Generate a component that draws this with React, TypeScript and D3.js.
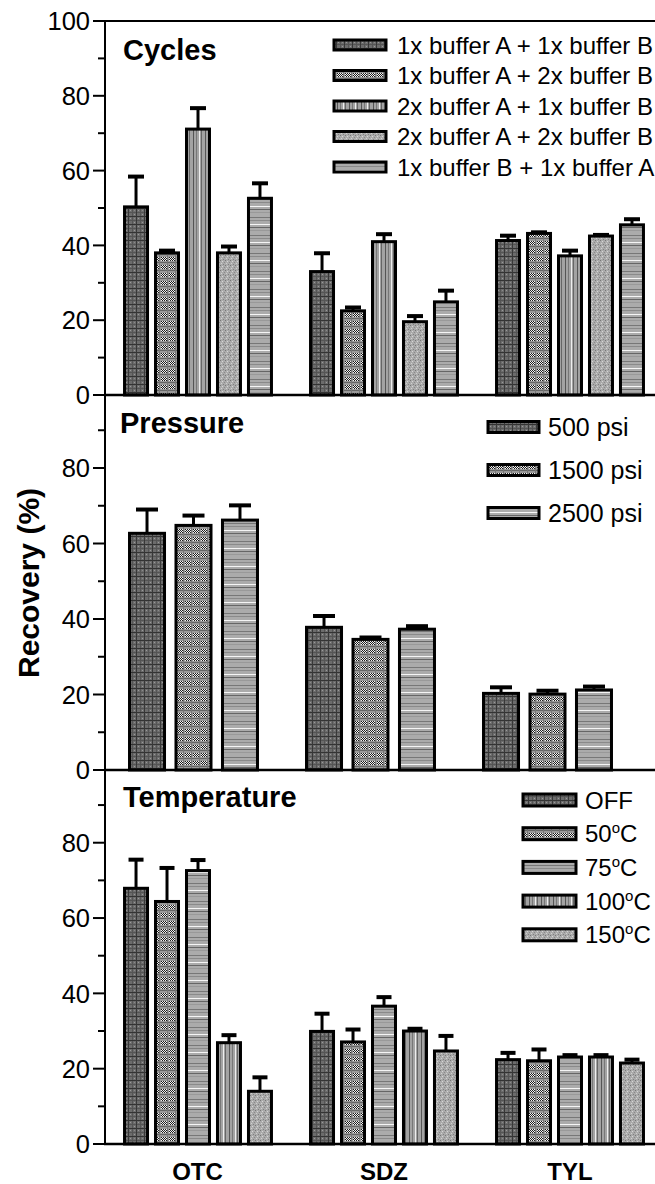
import React from "react";
import * as d3 from "d3";

const groups = ["OTC", "SDZ", "TYL"];

const cycleSeries = [
  "1x buffer A + 1x buffer B",
  "1x buffer A + 2x buffer B",
  "2x buffer A + 1x buffer B",
  "2x buffer A + 2x buffer B",
  "1x buffer B + 1x buffer A",
];
const cycleMeans = [
  [50.3, 33.0, 41.3],
  [38.0, 22.5, 43.2],
  [71.1, 41.0, 37.2],
  [38.0, 19.6, 42.5],
  [52.6, 24.9, 45.5],
];
const cycleErrors = [
  [8.1, 4.9, 1.3],
  [0.6, 0.9, 0.3],
  [5.6, 2.0, 1.4],
  [1.7, 1.5, 0.3],
  [4.0, 3.0, 1.5],
];

const pressureSeries = ["500 psi", "1500 psi", "2500 psi"];
const pressureMeans = [
  [62.7, 37.8, 20.3],
  [64.8, 34.6, 20.1],
  [66.2, 37.3, 21.2],
];
const pressureErrors = [
  [6.3, 3.0, 1.6],
  [2.6, 0.5, 0.9],
  [3.9, 0.8, 0.9],
];

// temperature labels: number part, degree mark is drawn as a superscript "o"
const tempSeries = ["OFF", "50", "75", "100", "150"];
const tempMeans = [
  [67.9, 29.9, 22.4],
  [64.4, 27.1, 22.1],
  [72.6, 36.6, 23.1],
  [26.9, 30.0, 23.1],
  [14.0, 24.7, 21.5],
];
const tempErrors = [
  [7.6, 4.7, 1.8],
  [8.9, 3.3, 3.0],
  [2.8, 2.4, 0.5],
  [2.0, 0.6, 0.5],
  [3.7, 4.0, 0.9],
];

const majorTicks = [0, 20, 40, 60, 80, 100];
const minorTicks = [10, 30, 50, 70, 90];

const FONT = "'Liberation Sans', Arial, Helvetica, sans-serif";
const AXIS_X = 105;
const RIGHT = 655;

const Patterns = () => (
  <defs>
    <pattern id="p1" width={8} height={8} patternUnits="userSpaceOnUse">
      <rect width={8} height={8} fill="#6c6c6c" />
      <rect x={0} y={4} width={8} height={1} fill="#555" />
      <rect x={4} y={0} width={1} height={8} fill="#555" />
      <rect x={0} y={0} width={8} height={1} fill="#333" />
      <rect x={0} y={0} width={1} height={8} fill="#383838" />
      <rect x={2} y={2} width={1} height={1} fill="#9a9a9a" />
      <rect x={6} y={6} width={1} height={1} fill="#9a9a9a" />
      <rect x={6} y={2} width={1} height={1} fill="#8a8a8a" />
    </pattern>
    <pattern id="p2" width={8} height={8} patternUnits="userSpaceOnUse">
      <rect width={8} height={8} fill="#999" />
      {d3.range(1, 7).flatMap((x) =>
        d3.range(1, 5).map((y) => (
          <rect
            key={`${x}-${y}`}
            x={x}
            y={y}
            width={1}
            height={1}
            fill={(x + y) % 2 === 0 ? "#1c1c1c" : "#f2f2f2"}
          />
        ))
      )}
      <rect x={0} y={6} width={8} height={1} fill="#666" />
      <rect x={7} y={0} width={1} height={8} fill="#777" />
    </pattern>
    <pattern id="p3" width={12} height={4} patternUnits="userSpaceOnUse">
      <rect width={12} height={4} fill="#a3a3a3" />
      <rect x={1} width={1} height={4} fill="#555" />
      <rect x={4} width={1} height={4} fill="#777" />
      <rect x={7} width={1} height={4} fill="#eeeeee" />
      <rect x={9} width={1} height={4} fill="#666" />
    </pattern>
    <pattern id="p4" width={5} height={5} patternUnits="userSpaceOnUse">
      <rect width={5} height={5} fill="#ababab" />
      <rect x={0} y={0} width={1} height={1} fill="#777" />
      <rect x={2} y={1} width={1} height={1} fill="#d6d6d6" />
      <rect x={4} y={2} width={1} height={1} fill="#888" />
      <rect x={1} y={3} width={1} height={1} fill="#d0d0d0" />
      <rect x={3} y={4} width={1} height={1} fill="#808080" />
    </pattern>
    <pattern id="p5" width={4} height={18} patternUnits="userSpaceOnUse">
      <rect width={4} height={18} fill="#ababab" />
      <rect y={1} width={4} height={1} fill="#777" />
      <rect y={4} width={4} height={1} fill="#8a8a8a" />
      <rect y={8} width={4} height={1} fill="#f5f5f5" />
      <rect y={11} width={4} height={1} fill="#666" />
      <rect y={14} width={4} height={1} fill="#999" />
    </pattern>
  </defs>
);

type PanelProps = {
  top: number;
  bottom: number;
  title: string;
  titleX: number;
  titleY: number;
  means: number[][];
  errors: number[][];
  patterns: string[];
  groupRange: [number, number];
  groupPad: number;
  barPad: number;
  capWidth: number;
  labelTop: boolean;
  legend: React.ReactNode;
};

const Panel = ({
  top,
  bottom,
  title,
  titleX,
  titleY,
  means,
  errors,
  patterns,
  groupRange,
  groupPad,
  barPad,
  capWidth,
  labelTop,
  legend,
}: PanelProps) => {
  const y = d3.scaleLinear().domain([0, 100]).range([bottom, top]);
  const x0 = d3
    .scaleBand()
    .domain(groups)
    .range(groupRange)
    .paddingInner(groupPad)
    .paddingOuter(groupPad / 2);
  const x1 = d3
    .scaleBand<number>()
    .domain(d3.range(means.length))
    .range([0, x0.bandwidth()])
    .paddingInner(barPad)
    .paddingOuter(0);

  const labels = labelTop ? majorTicks : majorTicks.slice(0, -1);

  return (
    <g>
      {/* ticks */}
      {labels.map((t) => (
        <g key={"M" + t}>
          <line x1={AXIS_X - 12} x2={AXIS_X} y1={y(t)} y2={y(t)} stroke="#000" strokeWidth={2} />
          <text
            x={AXIS_X - 15}
            y={y(t)}
            dy="0.36em"
            textAnchor="end"
            fontSize={25.5}
            fontFamily={FONT}
          >
            {t}
          </text>
        </g>
      ))}
      {minorTicks.map((t) => (
        <line key={"m" + t} x1={AXIS_X - 7} x2={AXIS_X} y1={y(t)} y2={y(t)} stroke="#000" strokeWidth={2} />
      ))}

      {/* bars */}
      {means.map((row, s) =>
        row.map((v, g) => {
          const bx = (x0(groups[g]) as number) + (x1(s) as number);
          const cx = bx + x1.bandwidth() / 2;
          const e = errors[s][g];
          return (
            <g key={`${s}-${g}`}>
              <line x1={cx} x2={cx} y1={y(v)} y2={y(v + e)} stroke="#000" strokeWidth={3} />
              <line
                x1={cx - capWidth / 2}
                x2={cx + capWidth / 2}
                y1={y(v + e)}
                y2={y(v + e)}
                stroke="#000"
                strokeWidth={4}
              />
              <rect
                x={bx}
                y={y(v)}
                width={x1.bandwidth()}
                height={y(0) - y(v)}
                fill={`url(#${patterns[s]})`}
                stroke="#000"
                strokeWidth={3}
              />
            </g>
          );
        })
      )}

      <line x1={AXIS_X - 1} x2={RIGHT} y1={bottom} y2={bottom} stroke="#000" strokeWidth={2.5} />

      <text x={titleX} y={titleY} fontSize={29} fontWeight="bold" fontFamily={FONT}>
        {title}
      </text>
      {legend}
    </g>
  );
};

type LegendProps = {
  items: React.ReactNode[];
  patterns: string[];
  x: number;
  y0: number;
  step: number;
  swatchW: number;
  swatchH: number;
  textX: number;
  fontSize: number;
};

const Legend = ({ items, patterns, x, y0, step, swatchW, swatchH, textX, fontSize }: LegendProps) => (
  <g>
    {items.map((label, i) => {
      const cy = y0 + i * step;
      return (
        <g key={i}>
          <rect
            x={x}
            y={cy - swatchH / 2}
            width={swatchW}
            height={swatchH}
            fill={`url(#${patterns[i]})`}
            stroke="#000"
            strokeWidth={3}
          />
          <text x={textX} y={cy} dy="0.36em" fontSize={fontSize} fontFamily={FONT}>
            {label}
          </text>
        </g>
      );
    })}
  </g>
);

const tempLabel = (t: string) =>
  t === "OFF" ? (
    t
  ) : (
    <>
      {t}
      <tspan dy={-9} fontSize={15}>
        o
      </tspan>
      <tspan dy={9}>C</tspan>
    </>
  );

const cyclePatterns = ["p1", "p2", "p3", "p4", "p5"];
const pressurePatterns = ["p1", "p2", "p5"];
const tempPatterns = ["p1", "p2", "p5", "p3", "p4"];

export default function App() {
  return (
    <svg
      width={655}
      height={1184}
      style={{ position: "absolute", left: 0, top: 0, background: "#fff" }}
    >
      <Patterns />

      <line x1={AXIS_X} x2={AXIS_X} y1={21} y2={1145} stroke="#000" strokeWidth={2} />
      <line x1={AXIS_X} x2={RIGHT} y1={21} y2={21} stroke="#000" strokeWidth={2} />

      <Panel
        top={21}
        bottom={395}
        title="Cycles"
        titleX={123}
        titleY={60}
        means={cycleMeans}
        errors={cycleErrors}
        patterns={cyclePatterns}
        groupRange={[105, 663]}
        groupPad={0.21}
        barPad={0.258}
        capWidth={16}
        labelTop={true}
        legend={
          <Legend
            items={cycleSeries}
            patterns={cyclePatterns}
            x={334}
            y0={45}
            step={30.5}
            swatchW={52}
            swatchH={10}
            textX={397}
            fontSize={24}
          />
        }
      />
      <Panel
        top={392.5}
        bottom={770}
        title="Pressure"
        titleX={120}
        titleY={433}
        means={pressureMeans}
        errors={pressureErrors}
        patterns={pressurePatterns}
        groupRange={[105, 636]}
        groupPad={0.277}
        barPad={0.247}
        capWidth={22}
        labelTop={false}
        legend={
          <Legend
            items={pressureSeries}
            patterns={pressurePatterns}
            x={488}
            y0={427}
            step={43}
            swatchW={51}
            swatchH={11}
            textX={548}
            fontSize={25}
          />
        }
      />
      <Panel
        top={767.4}
        bottom={1144}
        title="Temperature"
        titleX={123}
        titleY={807}
        means={tempMeans}
        errors={tempErrors}
        patterns={tempPatterns}
        groupRange={[105, 663]}
        groupPad={0.21}
        barPad={0.258}
        capWidth={15}
        labelTop={false}
        legend={
          <Legend
            items={tempSeries.map(tempLabel)}
            patterns={tempPatterns}
            x={523}
            y0={800}
            step={33.7}
            swatchW={53}
            swatchH={12}
            textX={585}
            fontSize={24}
          />
        }
      />

      {groups.map((g, i) => (
        <text
          key={g}
          x={[197.5, 384, 570][i]}
          y={1180}
          textAnchor="middle"
          fontSize={24}
          fontWeight="bold"
          fontFamily={FONT}
        >
          {g}
        </text>
      ))}

      <text
        transform="translate(39,583) rotate(-90)"
        textAnchor="middle"
        fontSize={30}
        fontWeight="bold"
        fontFamily={FONT}
      >
        Recovery (%)
      </text>
    </svg>
  );
}
